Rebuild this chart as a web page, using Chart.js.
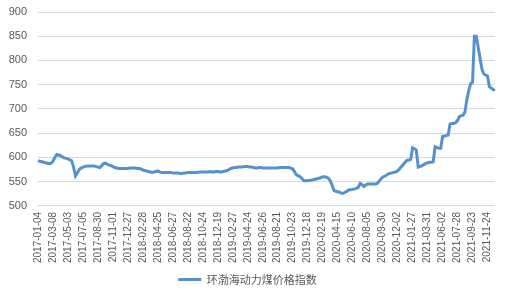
<!DOCTYPE html>
<html>
<head>
<meta charset="utf-8">
<script src="https://cdn.jsdelivr.net/npm/chart.js@4"></script>
<style>
  html, body { margin: 0; padding: 0; background: #fff; }
  #wrap { width: 518px; height: 300px; }
</style>
</head>
<body>
<div id="wrap"><canvas id="chart" width="518" height="300"></canvas></div>
<script>
const seriesName = '环渤海动力煤价格指数';

// labelled dates, one every 8 data points
const tickLabels = [
  '2017-01-04', '2017-03-08', '2017-05-03', '2017-07-05', '2017-08-30', '2017-11-01',
  '2017-12-27', '2018-02-28', '2018-04-25', '2018-06-27', '2018-08-22', '2018-10-24',
  '2018-12-19', '2019-02-27', '2019-04-24', '2019-06-26', '2019-08-21', '2019-10-23',
  '2019-12-18', '2020-02-19', '2020-04-15', '2020-06-10', '2020-08-05', '2020-09-30',
  '2020-12-02', '2021-01-27', '2021-03-31', '2021-06-02', '2021-07-28', '2021-09-23',
  '2021-11-24'
];
const labelStep = 8;

// index values (yuan/ton)
const values2017 = [
  593, 592, 591, 590, 589, 588, 587, 588, 592, 600,
  606, 605, 604, 601, 599, 598, 597, 595, 593, 580,
  562, 568, 575, 578, 580, 581, 582, 582, 582, 582,
  582, 581, 580, 579, 583, 587, 588, 586, 584, 583,
  581, 579, 578, 577, 577, 577, 577, 577, 577, 578
];
const values2018 = [
  578, 578, 578, 577, 577, 576, 574, 573, 572, 571,
  570, 569, 570, 571, 572, 570, 569, 569, 569, 569,
  569, 569, 568, 568, 568, 568, 567, 567, 568, 568,
  569, 569, 569, 569, 569, 569, 570, 570, 570, 570,
  570, 570, 571, 570, 570, 571, 571, 570, 570, 571
];
const values2019 = [
  572, 573, 575, 577, 578, 579, 579, 580, 580, 580,
  581, 581, 581, 580, 580, 579, 578, 578, 579, 579,
  578, 578, 578, 578, 578, 578, 578, 578, 578, 579,
  579, 579, 579, 579, 579, 578, 576, 570, 564, 562,
  560, 556, 552, 552, 552, 553, 553, 554, 555, 556
];
const values2020 = [
  557, 558, 560, 560, 559, 557, 552, 543, 532, 530,
  529, 528, 526, 526, 528, 530, 533, 533, 534, 535,
  536, 538, 546, 544, 540, 543, 545, 545, 545, 545,
  545, 546, 550, 555, 559, 561, 563, 566, 567, 568,
  569, 570, 572, 576, 581, 585, 590, 594, 594, 596
];
const values2021 = [
  620, 618, 615, 580, 581, 583, 585, 587, 589, 590,
  590, 591, 622, 620, 619, 619, 643, 644, 645, 646,
  669, 670, 670, 672, 676, 684, 686, 687, 694, 720,
  738, 752, 755, 850, 850, 828, 805, 782, 772, 770,
  768, 746, 743, 740, 738
];

const yMin = 500;
const yMax = 900;
const yStep = 50;

const values = [].concat(values2017, values2018, values2019, values2020, values2021);
const categories = values.map((v, i) => (i % labelStep === 0 && tickLabels[i / labelStep]) ? tickLabels[i / labelStep] : '');

const textColor = '#595959';

new Chart(document.getElementById('chart'), {
  type: 'line',
  data: {
    labels: categories,
    datasets: [{
      label: seriesName,
      data: values,
      borderColor: '#5592cd',
      backgroundColor: '#5592cd',
      borderWidth: 3,
      pointRadius: 0,
      tension: 0,
      fill: false,
    }],
  },
  options: {
    responsive: false,
    animation: false,
    layout: { padding: { left: 0, right: 23, top: 12, bottom: 5 } },
    plugins: {
      legend: {
        position: 'bottom',
        labels: {
          usePointStyle: true,
          pointStyle: 'line',
          pointStyleWidth: 23,
          color: textColor,
          font: { family: '"Noto Sans CJK SC", sans-serif', size: 11 },
          padding: 5,
        },
      },
      tooltip: { enabled: false },
    },
    scales: {
      x: {
        grid: { display: false, drawTicks: false },
        border: { display: false },
        ticks: {
          autoSkip: false,
          minRotation: 90,
          maxRotation: 90,
          padding: 6,
          color: textColor,
          font: { family: '"Liberation Sans", sans-serif', size: 10 },
          callback: (v, i) => categories[i] || null,
        },
      },
      y: {
        min: yMin,
        max: yMax,
        border: { display: false },
        // transparent tick marks only push the labels left of the plot
        grid: { color: '#d9d9d9', tickLength: 9, tickColor: 'rgba(0,0,0,0)' },
        ticks: {
          stepSize: yStep,
          padding: 2,
          color: textColor,
          font: { family: '"Liberation Sans", sans-serif', size: 11 },
        },
        afterFit: s => { s.width = 38; },
      },
    },
  },
});
</script>
</body>
</html>
